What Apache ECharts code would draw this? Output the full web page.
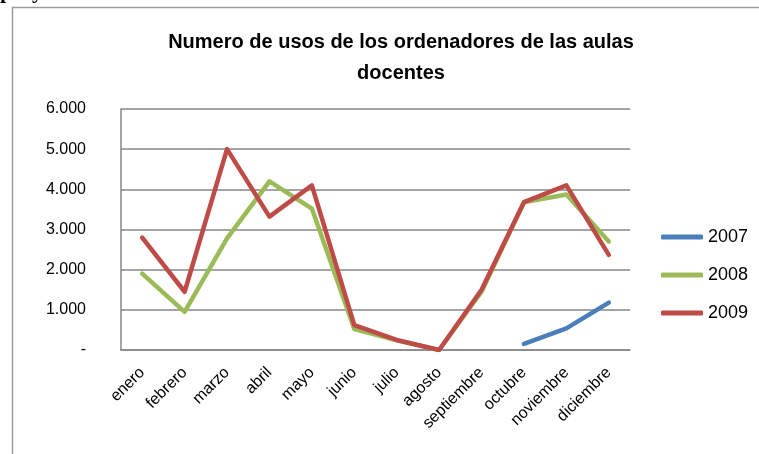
<!DOCTYPE html>
<html>
<head>
<meta charset="utf-8">
<script src="https://cdn.jsdelivr.net/npm/echarts@6/dist/echarts.min.js"></script>
<style>
  html, body { margin: 0; padding: 0; background: #fff; }
  #main { width: 759px; height: 454px; }
</style>
</head>
<body>
<div id="main"></div>
<script>
var myChart = echarts.init(document.getElementById('main'));

// datos
var meses = ['enero', 'febrero', 'marzo', 'abril', 'mayo', 'junio', 'julio',
             'agosto', 'septiembre', 'octubre', 'noviembre', 'diciembre'];
var anios = ['2007', '2008', '2009'];
var usos2007 = [null, null, null, null, null, null, null, null, null, 150, 540, 1180];
var usos2008 = [1900, 950, 2780, 4200, 3520, 520, 240, 0, 1450, 3680, 3870, 2700];
var usos2009 = [2800, 1450, 5000, 3320, 4100, 620, 250, 0, 1500, 3680, 4100, 2370];
var colores = ['#4a7ebb', '#9bbb59', '#be4b48'];

var fuente = 'Liberation Sans';

function serie(nombre, datos, color) {
    return {
        name: nombre,
        type: 'line',
        data: datos,
        symbol: 'none',
        color: color,
        lineStyle: { width: 4.5, color: color, cap: 'round', join: 'round' },
        animation: false
    };
}

var option = {
    backgroundColor: '#fff',
    textStyle: { fontFamily: fuente },
    graphic: [
        {
            type: 'rect',
            shape: { x: 12.5, y: 7.5, width: 800, height: 500 },
            style: { fill: 'none', stroke: '#9a9a9a', lineWidth: 1.5 }
        },
        {
            type: 'text', left: 0, top: -19,
            style: { text: 'p', font: 'bold 22px "Liberation Serif"', fill: '#000' }
        },
        {
            type: 'text', left: 32, top: -19,
            style: { text: 'y', font: 'bold 22px "Liberation Serif"', fill: '#000' }
        }
    ],
    title: {
        text: 'Numero de usos de los ordenadores de las aulas\ndocentes',
        left: 396,
        top: 22,
        textAlign: 'center',
        textStyle: {
            fontFamily: fuente,
            fontSize: 20,
            fontWeight: 'bold',
            color: '#000',
            lineHeight: 31
        }
    },
    legend: {
        data: anios,
        orient: 'vertical',
        left: 656,
        top: 223,
        icon: 'roundRect',
        itemWidth: 42,
        itemHeight: 5,
        itemGap: 20,
        textStyle: { fontFamily: fuente, fontSize: 18, color: '#000' }
    },
    grid: {
        left: 121,
        right: 129,
        top: 109,
        bottom: 104
    },
    xAxis: {
        type: 'category',
        data: meses,
        boundaryGap: true,
        axisLine: { lineStyle: { color: '#868686', width: 1.5 } },
        axisTick: { show: false },
        axisLabel: {
            rotate: 45,
            margin: 20,
            interval: 0,
            fontFamily: fuente,
            fontSize: 16,
            color: '#000'
        }
    },
    yAxis: {
        type: 'value',
        min: 0,
        max: 6000,
        interval: 1000,
        axisLine: { show: true, lineStyle: { color: '#868686', width: 1.5 } },
        axisTick: { show: false },
        splitLine: { lineStyle: { color: '#868686', width: 1.5 } },
        axisLabel: {
            margin: 35,
            fontFamily: fuente,
            fontSize: 16,
            color: '#000',
            formatter: function (v) {
                if (v === 0) return '-';
                return String(v).replace(/\B(?=(\d{3})+(?!\d))/g, '.');
            }
        }
    },
    series: [
        serie(anios[0], usos2007, colores[0]),
        serie(anios[1], usos2008, colores[1]),
        serie(anios[2], usos2009, colores[2])
    ]
};

myChart.setOption(option);
</script>
</body>
</html>
